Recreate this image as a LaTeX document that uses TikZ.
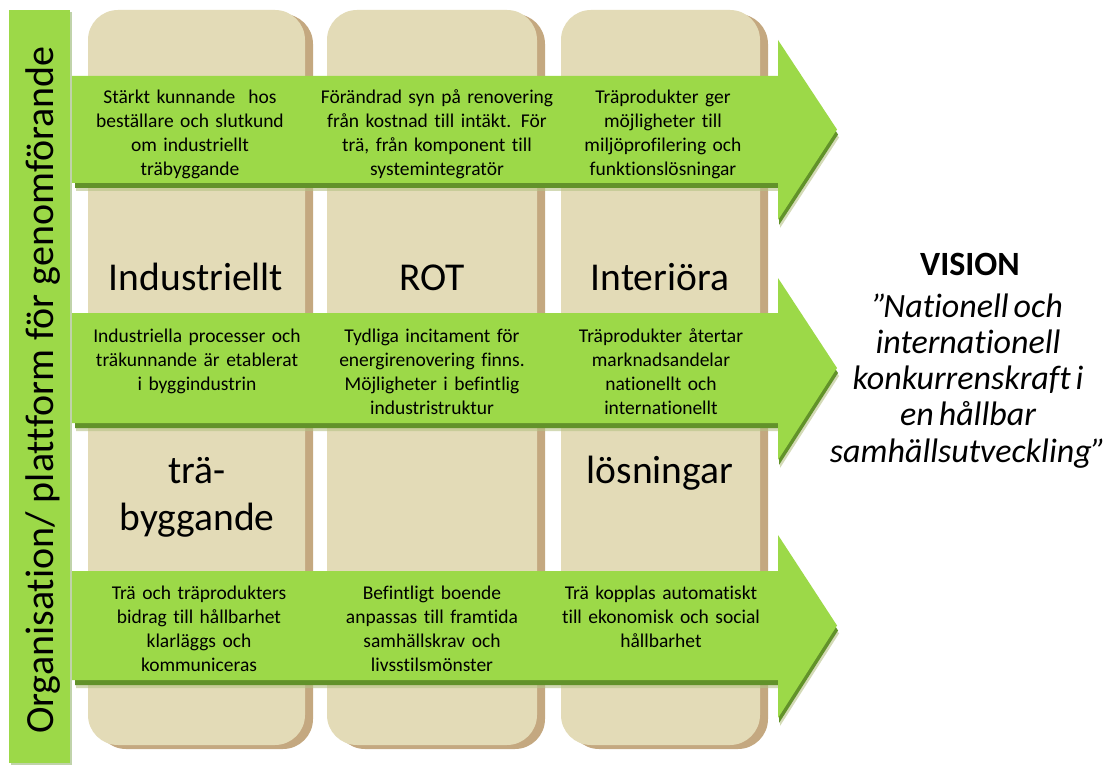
\documentclass[tikz,border=0pt]{standalone}
\usepackage{fontspec}
\setmainfont{Carlito}[Ligatures={NoCommon,NoContextual}]
\usetikzlibrary{shadows}
\definecolor{arrgreen}{RGB}{156,217,72}
\definecolor{arrshadow}{RGB}{98,146,42}
\definecolor{colbeige}{RGB}{227,219,183}
\definecolor{colshadow}{RGB}{196,168,128}
\newcommand\grarrow[5]{% #1 name #2 top #3 bottom #4 head top #5 head bottom
  \fill[arrshadow!35!colbeige, opacity=0.6, shift={(2,8)}] (74,#2) -- (778,#2) -- (778,#4) -- (837,{(#2+#3)/2}) -- (778,#5) -- (778,#3) -- (74,#3) -- cycle;
  \fill[arrshadow, shift={(1,5)}] (74,#2) -- (778,#2) -- (778,#4) -- (837,{(#2+#3)/2}) -- (778,#5) -- (778,#3) -- (74,#3) -- cycle;
  \fill[arrgreen] (70,#2) -- (778,#2) -- (778,#4) coordinate (#1-ht) -- (837,{(#2+#3)/2}) coordinate (#1-tip) -- (778,#5) -- (778,#3) -- (70,#3) -- cycle;
}
\begin{document}
\begin{tikzpicture}[x=1pt,y=-1pt,
  colbox/.style={fill=colbeige, rounded corners=30pt, inner sep=0pt, outer sep=0pt,
     minimum height=735pt,
     drop shadow={shadow xshift=8pt, shadow yshift=-4pt, fill=colshadow, opacity=1}},
  smalltext/.style={font=\fontsize{19.5}{24}\selectfont, align=center, text width=270pt, anchor=base, inner sep=0pt},
  bigtext/.style={font=\fontsize{39.5}{47.6}\selectfont, align=center, text width=270pt, anchor=base, inner sep=0pt},
  bartext/.style={font=\fontsize{40}{48}\selectfont, rotate=90, anchor=base, inner sep=0pt}]
\useasboundingbox (0,0) rectangle (1112,765);
\fill[white] (0,0) rectangle (1112,765);

% columns
\node[colbox, minimum width=217pt] (col1) at (196.5,377.5) {};
\node[colbox, minimum width=210pt] (col2) at (432,377.5) {};
\node[colbox, minimum width=199pt] (col3) at (660.5,377.5) {};

% column titles
\node[bigtext] (t1) at (196,290) {Industriellt};
\node[bigtext] (t1b) at (197,483) {trä-\\byggande};
\node[bigtext] (t2) at (432,290) {ROT};
\node[bigtext] (t3) at (660,290) {Interiöra};
\node[bigtext] (t3b) at (660,483) {lösningar};

% arrows
\grarrow{a1}{76}{183}{40}{220}
\grarrow{a2}{313}{423}{278}{460}
\grarrow{a3}{571}{680}{535}{718}

% left bar
\fill[arrshadow!40!white] (11,12) rectangle (72,765);
\node[fill=arrgreen, minimum width=61pt, minimum height=753pt, inner sep=0pt, outer sep=0pt] (bar) at (39.5,386.5) {};
\node[bartext] (bart) at (53,390) {Organisation/ plattform för genomförande};

% arrow 1 texts
\node[smalltext] (a1c1) at (190,104) {Stärkt kunnande~ hos\\beställare och slutkund\\om industriellt\\träbyggande};
\node[smalltext] (a1c2) at (437,104) {Förändrad syn på renovering\\från kostnad till intäkt. För\\trä, från komponent till\\systemintegratör};
\node[smalltext] (a1c3) at (663,104) {Träprodukter ger\\möjligheter till\\miljöprofilering och\\funktionslösningar};

% arrow 2 texts
\node[smalltext] (a2c1) at (197,342) {Industriella processer och\\träkunnande är etablerat\\i byggindustrin};
\node[smalltext] (a2c2) at (432,342) {Tydliga incitament för\\energirenovering finns.\\Möjligheter i befintlig\\industristruktur};
\node[smalltext] (a2c3) at (661,342) {Träprodukter återtar\\marknadsandelar\\nationellt och\\internationellt};

% arrow 3 texts
\node[smalltext] (a3c1) at (199,599) {Trä och träprodukters\\bidrag till hållbarhet\\klarläggs och\\kommuniceras};
\node[smalltext] (a3c2) at (432,599) {Befintligt boende\\anpassas till framtida\\samhällskrav och\\livsstilsmönster};
\node[smalltext] (a3c3) at (661,599) {Trä kopplas automatiskt\\till ekonomisk och social\\hållbarhet};

% vision
\node[font=\fontsize{34}{36.25}\selectfont\bfseries, anchor=base, inner sep=0pt] (vis) at (970,275) {VISION};
\node[font=\fontsize{34}{36.25}\selectfont\itshape, align=center, text width=300pt, anchor=base, inner sep=0pt] (vtext) at (968,317) {\spaceskip=5pt\relax ”\kern-4pt Nationell och\\internationell\\konkurrenskraft i\\en hållbar\\samhällsutveckling”};
\end{tikzpicture}
\end{document}
